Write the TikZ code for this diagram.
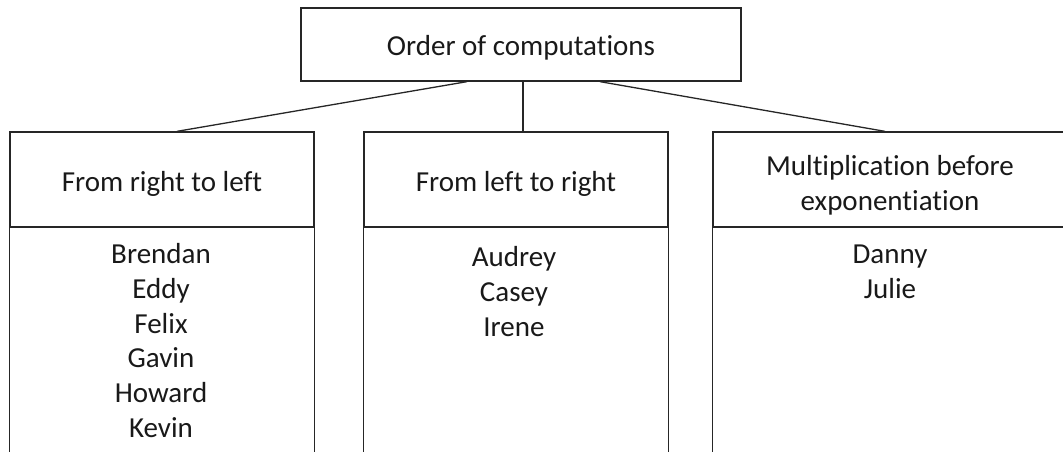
\documentclass[tikz,border=0pt]{standalone}
\usepackage{fontspec}
\setmainfont{Carlito}[Ligatures=NoCommon]
\begin{document}
\begin{tikzpicture}[x=1pt,y=-1pt,
  line width=1.3pt,
  every node/.style={font=\fontsize{29}{34.8}\selectfont, text=black!90, inner sep=0pt},
  box/.style={draw=black!85, minimum height=95pt},
  topbox/.style={draw=black!85, minimum width=440pt, minimum height=73pt},
  caption/.style={align=center},
  listtext/.style={align=center, anchor=north},
  link/.style={draw=black!85}]
\useasboundingbox (0,0) rectangle (1063,452);
\clip (0,0) rectangle (1063,452);

% root
\node[topbox] (root) at (521,44.5) {};
\node[caption] (roottext) at ([yshift=-3pt]root.center) {Order of computations};

% category headers
\node[box, minimum width=304pt] (h1) at (162,179.5) {};
\node[box, minimum width=304pt] (h2) at (516,179.5) {};
\node[box, minimum width=354pt] (h3) at (890,179.5) {};
\node[caption] (c1) at ([yshift=-4pt]h1.center) {From right to left};
\node[caption] (c2) at ([yshift=-4pt]h2.center) {From left to right};
\node[caption] (c3) at ([yshift=-6pt]h3.center) {Multiplication before\\exponentiation};

% open-bottom list panels
\draw[link] (h1.south west) -- ++(0,240);
\draw[link] (h1.south east) -- ++(0,240);
\draw[link] (h2.south west) -- ++(0,240);
\draw[link] (h2.south east) -- ++(0,240);
\draw[link] (h3.south west) -- ++(0,240);
\draw[link] (h3.south east) -- ++(0,240);

% members of each group
\node[listtext] (l1) at ([xshift=-1pt,yshift=-15pt]h1.south) {Brendan\\Eddy\\Felix\\Gavin\\Howard\\Kevin};
\node[listtext] (l2) at ([xshift=-2pt,yshift=-18pt]h2.south) {Audrey\\Casey\\Irene};
\node[listtext] (l3) at ([yshift=-17pt]h3.south) {Danny\\Julie};

% connectors
\draw[link] ([xshift=-54pt]root.south) -- ([xshift=15pt]h1.north);
\draw[link] ([xshift=2pt]root.south) -- ([xshift=2pt]root.south |- h2.north);
\draw[link] ([xshift=79pt]root.south) -- ([xshift=-5pt]h3.north);
\end{tikzpicture}
\end{document}
